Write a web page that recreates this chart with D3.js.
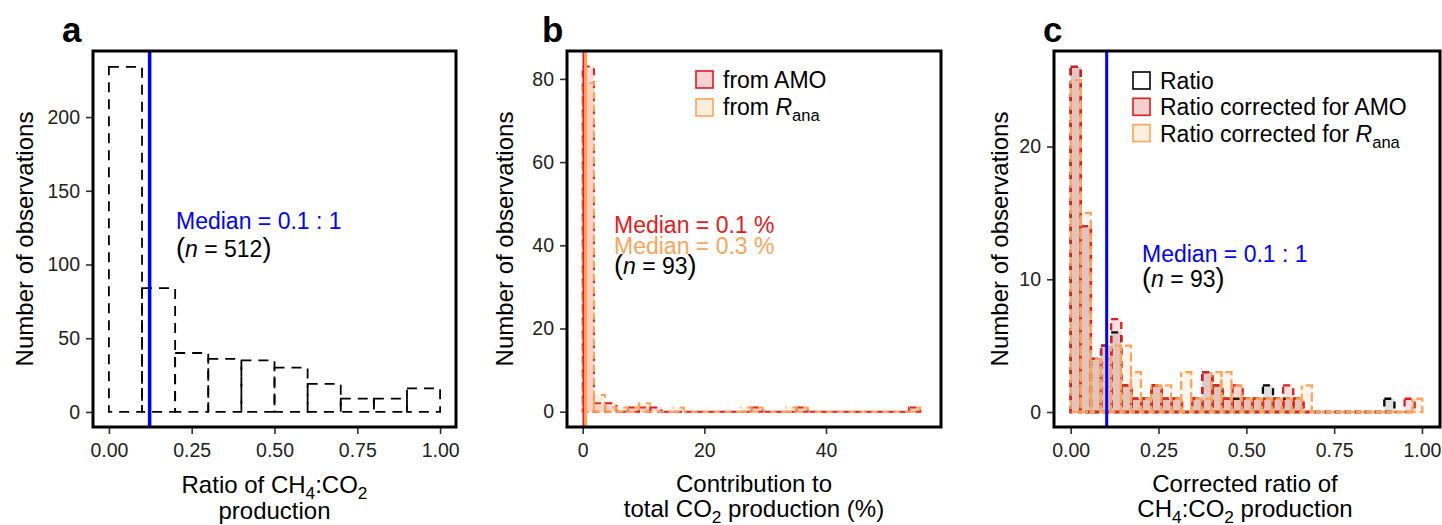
<!DOCTYPE html>
<html>
<head>
<meta charset="utf-8">
<script src="https://cdn.jsdelivr.net/npm/d3@7"></script>
<style>
  body { margin: 0; background: #fff; }
  svg { font-family: 'Liberation Sans', Arial, sans-serif; }
</style>
</head>
<body>
<svg id="chart" width="1442" height="525"></svg>
<script>
// ---- data ----
var aEdges = [0, 0.1, 0.2, 0.3, 0.4, 0.5, 0.6, 0.7, 0.8, 0.9, 1.0]
var aCounts = [234, 84, 40, 36, 35, 30, 19, 9, 9, 16]
var aMedian = 0.123

var bBinWidth = 1.85
var bAmoCounts = [83, 2, 2, 0, 1, 1, 1, 0, 0, 0, 0, 0, 0, 0, 0, 1, 0, 0, 0, 1, 0, 0, 0, 0, 0, 0, 0, 0, 0, 1]
var bRanaCounts = [79, 4, 1, 1, 1, 2, 0, 0, 1, 0, 0, 0, 0, 0, 1, 1, 0, 0, 1, 1, 0, 0, 0, 0, 0, 0, 0, 0, 0, 1]
var bMedianAmo = 0.1
var bMedianRana = 0.45

var cRatioWidth = 0.0288
var cAmoWidth = 0.0288
var cRanaWidth = 0.0286
var cRatioCounts = [26, 14, 4, 5, 6, 2, 1, 1, 2, 1, 1, 0, 1, 3, 2, 1, 1, 1, 1, 2, 1, 1, 1, 0, 0, 0, 0, 0, 0, 0, 0, 1]
var cAmoCounts = [26, 14, 4, 5, 7, 2, 1, 1, 2, 1, 1, 0, 1, 3, 2, 1, 2, 1, 1, 1, 1, 2, 1, 0, 0, 0, 0, 0, 0, 0, 0, 0, 0, 1]
var cRanaCounts = [25, 15, 4, 4, 5, 5, 3, 1, 2, 2, 1, 3, 1, 1, 3, 3, 2, 1, 1, 1, 1, 1, 1, 2, 0, 0, 0, 0, 0, 0, 0, 0, 0, 0, 1]
var cMedian = 0.1025

var ratioTicks = [0, 0.25, 0.5, 0.75, 1]
var aYTicks = [0, 50, 100, 150, 200]
var bXTicks = [0, 20, 40]
var bYTicks = [0, 20, 40, 60, 80]
var cYTicks = [0, 10, 20]

var red = '#e41a1c'
var orange = '#fba55c'
var blue = '#0000ff'

var svg = d3.select('#chart')

function makePanel(box, xDomain, yDomain) {
  var g = svg.append('g')
  var x = d3.scaleLinear().domain(xDomain).range([box.left, box.right])
  var y = d3.scaleLinear().domain(yDomain).range([box.bottom, box.top])
  return { g: g, x: x, y: y, box: box }
}

function drawAxes(p, xTicks, yTicks, fmt) {
  var xAxis = p.g.append('g')
    .attr('transform', 'translate(0,' + p.box.bottom + ')')
    .call(d3.axisBottom(p.x).tickValues(xTicks).tickFormat(fmt).tickSize(7).tickPadding(5))
  var yAxis = p.g.append('g')
    .attr('transform', 'translate(' + p.box.left + ',0)')
    .call(d3.axisLeft(p.y).tickValues(yTicks).tickSize(7).tickPadding(6))
  ;[xAxis, yAxis].forEach(function(ax) {
    ax.select('.domain').remove()
    ax.selectAll('line').attr('stroke', '#333').attr('stroke-width', 1.6)
    ax.selectAll('text').attr('font-size', 19.5).attr('fill', '#222')
      .attr('font-family', "'Liberation Sans', Arial, sans-serif")
  })
  xAxis.selectAll('text').attr('dy', '0.9em')
}

function drawFrame(p) {
  p.g.append('rect')
    .attr('x', p.box.left)
    .attr('y', p.box.top)
    .attr('width', p.box.right - p.box.left)
    .attr('height', p.box.bottom - p.box.top)
    .attr('fill', 'none')
    .attr('stroke', '#000')
    .attr('stroke-width', 3)
}

function binsFrom(width, counts) {
  return counts.map(function(n, i) {
    return { x0: i * width, x1: (i + 1) * width, n: n }
  })
}

// bars as paths so that empty bins still show their (dashed) outline
function drawHist(p, bins, style) {
  p.g.append('g')
    .selectAll('path')
    .data(bins)
    .enter()
    .append('path')
    .attr('d', d => 'M' + p.x(d.x0) + ',' + p.y(d.n) + 'H' + p.x(d.x1) +
      'V' + p.y(0) + 'H' + p.x(d.x0) + 'Z')
    .attr('fill', style.fill || 'none')
    .attr('fill-opacity', style.fillOpacity || 0)
    .attr('stroke', style.stroke)
    .attr('stroke-width', style.width)
    .attr('stroke-dasharray', style.dash)
    .attr('stroke-dashoffset', style.offset || 0)
}

function vline(p, v, color, w) {
  p.g.append('line')
    .attr('x1', p.x(v)).attr('x2', p.x(v))
    .attr('y1', p.box.top).attr('y2', p.box.bottom)
    .attr('stroke', color)
    .attr('stroke-width', w)
}

// rich text: parts = [{t, sub, it, big}]
function richText(g, x, y, parts, opts) {
  var size = opts.size || 23
  var t = g.append('text')
    .attr('x', x).attr('y', y)
    .attr('font-size', size)
    .attr('fill', opts.fill || '#000')
    .attr('text-anchor', opts.anchor || 'start')
  var shifted = false
  parts.forEach(function(pt) {
    var s = t.append('tspan').text(pt.t)
    if (pt.sub) {
      s.attr('font-size', size * 0.72).attr('dy', shifted ? 0 : 6)
      shifted = true
    } else if (shifted) {
      s.attr('dy', -6)
      shifted = false
    }
    if (pt.it) s.attr('font-style', 'italic')
    if (pt.big) s.attr('font-size', size + 4)
  })
  return t
}

function yTitle(g, x, yMid) {
  g.append('text')
    .attr('transform', 'translate(' + x + ',' + yMid + ') rotate(-90)')
    .attr('text-anchor', 'middle')
    .attr('font-size', 24)
    .text('Number of observations')
}

function panelLetter(x, letter) {
  svg.append('text')
    .attr('x', x).attr('y', 42)
    .attr('font-size', 35)
    .attr('font-weight', 'bold')
    .text(letter)
}

function nLabel(g, x, y, n) {
  richText(g, x, y, [
    { t: '(', big: true }, { t: 'n', it: true }, { t: ' = ' + n }, { t: ')', big: true }
  ], { size: 23 })
}

var fmt2 = d3.format('.2f')

// ---- panel a ----
var pa = makePanel({ left: 93, right: 456, top: 51, bottom: 427 }, [-0.048, 1.048], [-10.2, 244.8])
var aBins = aCounts.map((n, i) => ({ x0: aEdges[i], x1: aEdges[i + 1], n: n }))
drawHist(pa, aBins, { stroke: '#000', width: 1.8, dash: '10,7' })
vline(pa, aMedian, blue, 3.5)
drawAxes(pa, ratioTicks, aYTicks, fmt2)
drawFrame(pa)
richText(pa.g, 176, 229, [{ t: 'Median = 0.1 : 1' }], { fill: blue })
nLabel(pa.g, 176, 257, 512)
yTitle(pa.g, 33, 239)
richText(pa.g, 274.5, 493, [{ t: 'Ratio of CH' }, { t: '4', sub: true }, { t: ':CO' }, { t: '2', sub: true }], { anchor: 'middle', size: 24 })
richText(pa.g, 274.5, 519, [{ t: 'production' }], { anchor: 'middle', size: 24 })
panelLetter(62, 'a')

// ---- panel b ----
var pb = makePanel({ left: 567, right: 941, top: 51, bottom: 427 }, [-2.58, 58.9], [-3.68, 86.7])
drawHist(pb, binsFrom(bBinWidth, bAmoCounts), { stroke: red, width: 2, dash: '7,6', fill: red, fillOpacity: 0.15 })
drawHist(pb, binsFrom(bBinWidth, bRanaCounts), { stroke: orange, width: 2, dash: '7,6', offset: 6, fill: orange, fillOpacity: 0.18 })
vline(pb, bMedianRana, orange, 3.5)
vline(pb, bMedianAmo, red, 1.6)
drawAxes(pb, bXTicks, bYTicks, d3.format('d'))
drawFrame(pb)
// legend
pb.g.append('rect').attr('x', 696).attr('y', 71).attr('width', 17).attr('height', 17)
  .attr('fill', '#f6d2d2').attr('stroke', red).attr('stroke-width', 1.6)
pb.g.append('rect').attr('x', 696).attr('y', 99).attr('width', 17).attr('height', 17)
  .attr('fill', '#fdeedd').attr('stroke', orange).attr('stroke-width', 1.6)
richText(pb.g, 723, 88, [{ t: 'from AMO' }], {})
richText(pb.g, 723, 115, [{ t: 'from  ' }, { t: 'R', it: true }, { t: 'ana', sub: true }], {})
richText(pb.g, 614, 233, [{ t: 'Median = 0.1 %' }], { fill: red })
richText(pb.g, 614, 254, [{ t: 'Median = 0.3 %' }], { fill: orange })
nLabel(pb.g, 614, 274, 93)
yTitle(pb.g, 513, 239)
richText(pb.g, 754, 492, [{ t: 'Contribution to' }], { anchor: 'middle', size: 24 })
richText(pb.g, 754, 517, [{ t: 'total CO' }, { t: '2', sub: true }, { t: ' production (%)' }], { anchor: 'middle', size: 24 })
panelLetter(542, 'b')

// ---- panel c ----
var pc = makePanel({ left: 1054, right: 1440, top: 51, bottom: 427 }, [-0.0475, 1.0513], [-1.13, 27.2])
drawHist(pc, binsFrom(cRatioWidth, cRatioCounts), { stroke: '#000', width: 2.3, dash: '7,6', fill: '#888', fillOpacity: 0.25 })
drawHist(pc, binsFrom(cAmoWidth, cAmoCounts), { stroke: red, width: 2.3, dash: '7,6', fill: red, fillOpacity: 0.12 })
drawHist(pc, binsFrom(cRanaWidth, cRanaCounts), { stroke: orange, width: 2.3, dash: '9,4', offset: 9, fill: orange, fillOpacity: 0.12 })
vline(pc, cMedian, blue, 3)
drawAxes(pc, ratioTicks, cYTicks, fmt2)
drawFrame(pc)
var cKeys = [
  { label: [{ t: 'Ratio' }], fill: '#ffffff', stroke: '#000' },
  { label: [{ t: 'Ratio corrected for AMO' }], fill: '#f3d0d0', stroke: red },
  { label: [{ t: 'Ratio corrected for  ' }, { t: 'R', it: true }, { t: 'ana', sub: true }], fill: '#fdeedd', stroke: orange }
]
cKeys.forEach(function(k, i) {
  pc.g.append('rect').attr('x', 1133).attr('y', 72 + i * 26.3).attr('width', 17).attr('height', 17)
    .attr('fill', k.fill).attr('stroke', k.stroke).attr('stroke-width', 1.6)
  richText(pc.g, 1160, 89 + i * 26.3, k.label, {})
})
richText(pc.g, 1142, 262, [{ t: 'Median = 0.1 : 1' }], { fill: blue })
nLabel(pc.g, 1142, 287, 93)
yTitle(pc.g, 1008, 239)
richText(pc.g, 1245, 492, [{ t: 'Corrected ratio of' }], { anchor: 'middle', size: 24 })
richText(pc.g, 1245, 517, [{ t: 'CH' }, { t: '4', sub: true }, { t: ':CO' }, { t: '2', sub: true }, { t: ' production' }], { anchor: 'middle', size: 24 })
panelLetter(1043, 'c')
</script>
</body>
</html>
